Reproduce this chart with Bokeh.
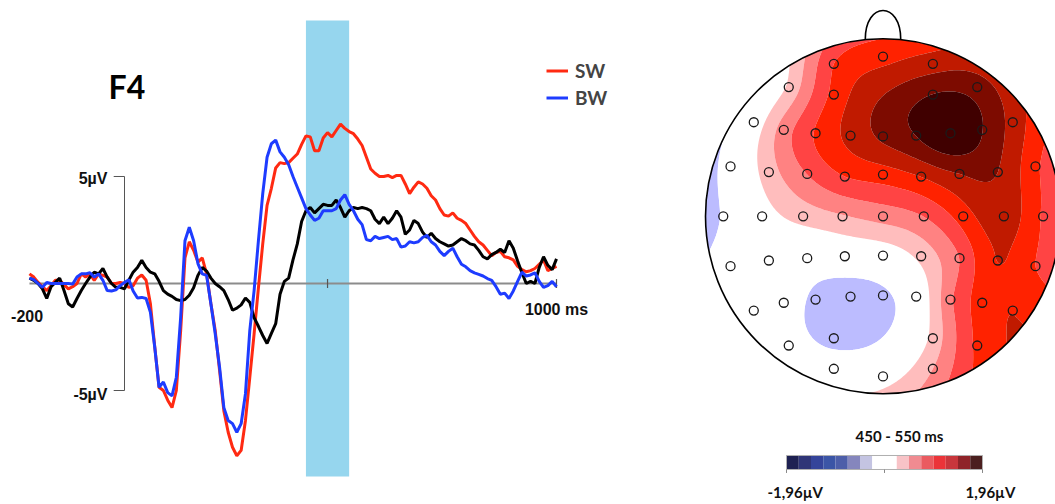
import numpy as np
from bokeh.plotting import figure
from bokeh.models import Range1d, BoxAnnotation, Legend, LegendItem
from bokeh.layouts import row
from bokeh.embed import file_html
from bokeh.resources import INLINE
from bokeh.core.properties import value

# ---------------- ERP data (channel F4), µV at 10 ms steps ----------------
times = list(range(-220, 1001, 10))

sw = [0.45, 0.3, 0.05, -0.15, -0.33, -0.1, 0.15, 0.15, -0.05, -0.25,
      -0.15, 0.0, 0.45, 0.3, 0.45, 0.15, 0.45, 0.38, 0.3, 0.0,
      0.0, 0.05, 0.0, -0.18, -0.1, 0.25, 0.4, 0.15, -0.95, -2.95,
      -4.85, -5.0, -5.45, -5.8, -5.0, -2.2, 1.2, 1.95, 1.55, 1.0,
      1.2, 0.45, -0.95, -2.2, -4.05, -5.95, -6.95, -7.65, -8.05, -7.8,
      -6.4, -4.4, -2.35, -0.2, 1.85, 3.65, 4.45, 5.4, 5.65, 5.6,
      5.65, 5.85, 6.05, 6.5, 6.9, 6.85, 6.2, 6.2, 6.8, 7.05,
      6.85, 7.15, 7.45, 7.25, 7.1, 7.0, 6.75, 6.45, 5.9, 5.35,
      5.15, 5.0, 5.0, 5.05, 4.95, 5.05, 5.05, 4.65, 4.2, 4.5,
      4.75, 4.65, 4.45, 4.1, 3.9, 3.5, 3.2, 3.15, 3.3, 3.05,
      2.95, 2.8, 2.5, 2.2, 1.95, 1.8, 1.55, 1.3, 1.45, 1.5,
      1.25, 1.2, 1.1, 0.8, 0.65, 0.55, 0.6, 0.7, 0.9, 1.1,
      0.6, 0.7, 0.8]

bw = [0.25, 0.18, 0.0, -0.18, 0.05, 0.0, 0.0, 0.0, 0.0, 0.0,
      -0.03, 0.3, 0.45, 0.45, 0.5, 0.3, 0.45, 0.15, -0.33, -0.35,
      -0.3, -0.1, 0.05, 0.18, -0.35, -0.68, -0.65, -0.7, -1.35, -2.98,
      -4.85, -4.6, -5.1, -5.25, -4.38, -1.58, 2.0, 2.63, 2.0, 0.93,
      0.45, 0.38, -0.95, -2.35, -3.9, -5.8, -6.4, -6.55, -6.95, -6.55,
      -5.15, -2.2, -0.33, 2.0, 4.2, 5.9, 6.53, 6.7, 6.15, 5.9,
      5.55, 5.0, 4.5, 4.0, 3.5, 3.2, 2.95, 3.05, 3.4, 3.4,
      3.4, 3.5, 3.9, 4.15, 3.7, 3.4, 3.0, 2.75, 2.05, 2.0,
      2.2, 2.1, 2.15, 2.2, 2.05, 2.1, 1.7, 1.75, 1.95, 1.9,
      1.95, 2.15, 2.25, 1.95, 1.8, 1.5, 1.3, 1.5, 1.65, 1.25,
      0.9, 0.78, 0.6, 0.5, 0.43, 0.35, 0.23, 0.15, -0.15, -0.5,
      -0.45, -0.7, -0.35, 0.1, 0.53, 0.35, 0.4, 0.5, 0.1, -0.18,
      -0.1, 0.1, -0.15]

diff = [0.25, 0.15, 0.0, -0.25, -0.7, -0.15, 0.05, 0.25, -0.33, -0.95,
        -1.1, -0.7, -0.33, 0.0, 0.3, 0.53, 0.45, 0.7, 0.3, 0.0,
        -0.18, -0.18, -0.25, 0.15, 0.53, 0.75, 1.08, 0.75, 0.53, 0.45,
        0.1, -0.33, -0.5, -0.6, -0.75, -0.8, -0.75, -0.55, -0.2, 0.38,
        0.75, 0.58, 0.25, 0.0, -0.15, -0.33, -0.75, -1.25, -1.15, -1.0,
        -0.68, -0.88, -1.6, -2.0, -2.43, -2.8, -2.33, -1.88, -0.5, 0.1,
        0.25, 1.1, 1.85, 2.9, 3.4, 3.55, 3.3, 3.5, 3.7, 3.65,
        3.65, 3.9, 3.55, 3.1, 3.4, 3.55, 3.5, 3.55, 3.5, 3.4,
        3.0, 2.8, 3.1, 2.8, 3.05, 3.4, 3.1, 2.3, 2.5, 2.95,
        2.8, 2.4, 2.15, 2.35, 2.1, 1.95, 1.85, 1.75, 1.8, 1.95,
        2.1, 2.0, 1.85, 1.8, 1.55, 1.25, 1.15, 1.35, 1.45, 1.6,
        1.45, 2.0, 1.65, 1.05, 0.5, 0.0, 0.1, 0.0, 0.75, 1.25,
        0.85, 0.65, 1.15]

window_ms = [420, 520]          # highlighted window
y_ticks = [5, -5]
y_tick_labels = ["5µV", "-5µV"]
x_ticks = [470, 1000]

# ---------------- Topography data (450-550 ms), µV per electrode ----------------
elec_x = [0.0, -0.277, 0.281,
          -0.531, -0.277, 0.281, 0.531,
          -0.728, -0.559, -0.380, -0.183, 0.0, 0.187, 0.380, 0.559, 0.731,
          -0.859, -0.643, -0.427, -0.215, 0.0, 0.215, 0.431, 0.647, 0.859,
          -0.900, -0.681, -0.450, -0.228, 0.0, 0.230, 0.452, 0.681, 0.902,
          -0.859, -0.643, -0.427, -0.215, 0.0, 0.215, 0.431, 0.647, 0.859,
          -0.728, -0.559, -0.380, -0.183, 0.0, 0.187, 0.380, 0.559, 0.731,
          -0.531, -0.277, 0.281, 0.531,
          -0.277, 0.0, 0.281]
elec_y = [0.900, 0.859, 0.859,
          0.728, 0.686, 0.686, 0.728,
          0.530, 0.487, 0.468, 0.455, 0.450, 0.455, 0.468, 0.487, 0.530,
          0.281, 0.249, 0.239, 0.224, 0.235, 0.224, 0.239, 0.249, 0.281,
          0.0, 0.0, 0.0, 0.0, 0.0, 0.0, 0.0, 0.0, 0.0,
          -0.281, -0.249, -0.236, -0.225, -0.221, -0.225, -0.236, -0.249, -0.281,
          -0.531, -0.487, -0.469, -0.452, -0.446, -0.452, -0.469, -0.487, -0.531,
          -0.728, -0.687, -0.687, -0.728,
          -0.859, -0.902, -0.859]
elec_v = [1.13, 0.98, 1.35,
          0.29, 1.05, 1.72, 1.59,
          0.07, 0.61, 1.00, 1.30, 1.52, 1.72, 1.96, 1.72, 1.38,
          -0.10, 0.37, 0.74, 0.98, 1.10, 1.23, 1.47, 1.47, 1.03,
          -0.22, 0.12, 0.34, 0.47, 0.59, 0.74, 1.10, 1.37, 0.95,
          -0.10, 0.0, -0.08, 0.0, 0.07, 0.32, 0.74, 1.23, 0.98,
          0.0, -0.1, -0.30, -0.40, -0.30, 0.0, 0.69, 1.10, 1.22,
          -0.07, -0.36, 0.32, 1.03,
          0.0, 0.12, 0.49]

cb_limit = 1.96
map_colors = ["#000070", "#0000a0", "#1a1ad0", "#3c3cff", "#6464ff", "#8c8cff", "#bcbcff",
              "#ffffff",
              "#ffbdbd", "#ff8282", "#ff4444", "#ff2200", "#c01a00", "#7d0b00", "#400000"]
bar_colors = ["#1e2152", "#2f3577", "#34449a", "#3b55a6", "#4d5ea9", "#8586bd", "#c4c4e2",
              "#ffffff",
              "#f8c3c7", "#f08b91", "#ea5b60", "#eb3439", "#c8363c", "#8f2329", "#4b1f1f"]

BOLD_SANS = value("Liberation Sans")
LATO = value("Lato")

# ======================= ERP panel =======================
p1 = figure(width=700, height=504, output_backend="svg", toolbar_location=None,
            x_range=Range1d(-287.04, 1333.33), y_range=Range1d(-10.327, 13.224),
            x_axis_location=None, y_axis_location=None, min_border=0)
p1.grid.visible = False
p1.outline_line_color = None

p1.add_layout(BoxAnnotation(left=window_ms[0], right=window_ms[1], bottom=-9.02, top=12.29,
                            fill_color="#96d6ee", fill_alpha=1.0, line_color=None,
                            level="underlay"))

# x axis (zero line) and y axis at t=0
p1.segment(x0=[times[0]], y0=[0], x1=[times[-1]], y1=[0], line_color="#8c8c8c", line_width=2)
p1.segment(x0=[0], y0=[min(y_ticks)], x1=[0], y1=[max(y_ticks)], line_color="#555555", line_width=1)
p1.segment(x0=[-25, -25], y0=y_ticks, x1=[0, 0], y1=y_ticks, line_color="#555555", line_width=1)
p1.scatter(x=x_ticks, y=[0, 0], marker="dash", angle=np.pi / 2, size=9,
           line_color="#555555", line_width=1.2)

r_sw = p1.line(times, sw, line_color="#ff2a12", line_width=3)
p1.line(times, diff, line_color="#000000", line_width=3)
r_bw = p1.line(times, bw, line_color="#1e3cff", line_width=3)

p1.text(x=[0], y=[y_ticks[0]], text=[y_tick_labels[0]], x_offset=-17, y_offset=2,
        text_align="right", text_baseline="middle", text_font=BOLD_SANS,
        text_font_style="bold", text_font_size="16px", text_color="#111111")
p1.text(x=[0], y=[y_ticks[1]], text=[y_tick_labels[1]], x_offset=-17, y_offset=4,
        text_align="right", text_baseline="middle", text_font=BOLD_SANS,
        text_font_style="bold", text_font_size="16px", text_color="#111111")
p1.text(x=[-200], y=[0], text=["-200"], x_offset=-11, y_offset=33,
        text_align="center", text_baseline="middle", text_font=BOLD_SANS,
        text_font_style="bold", text_font_size="16px", text_color="#111111")
p1.text(x=[1000], y=[0], text=["1000 ms"], x_offset=0, y_offset=26,
        text_align="center", text_baseline="middle", text_font=BOLD_SANS,
        text_font_style="bold", text_font_size="16px", text_color="#111111")
p1.text(x=[-37], y=[9.2], text=["F4"], text_align="left", text_baseline="middle",
        text_font=LATO, text_font_style="bold", text_font_size="32px", text_color="#000000")

legend = Legend(items=[LegendItem(label="SW", renderers=[r_sw]),
                       LegendItem(label="BW", renderers=[r_bw])],
                location=(546, 393.5), orientation="vertical",
                glyph_width=22, glyph_height=27, label_height=27, label_standoff=7,
                padding=0, spacing=0, margin=0, border_line_color=None,
                background_fill_alpha=0, label_text_font="Lato",
                label_text_font_style="bold", label_text_font_size="19px")
p1.add_layout(legend)

# ======================= Topography panel =======================
p2 = figure(width=355, height=504, output_backend="svg", toolbar_location=None,
            x_range=Range1d(-1.0282, 0.9718), y_range=Range1d(-1.6237, 1.2158),
            x_axis_location=None, y_axis_location=None, min_border=0)
p2.grid.visible = False
p2.outline_line_color = None
p2.extra_x_ranges = {"cb": Range1d(-3.68, 3.42)}

ex = np.array(elec_x)
ey = np.array(elec_y)
ev = np.array(elec_v)


def tps_kernel(r):
    rr = np.maximum(r, 1e-12)
    return r * r * np.log(rr)


n = len(ex)
d = np.sqrt((ex[:, None] - ex[None, :]) ** 2 + (ey[:, None] - ey[None, :]) ** 2)
K = tps_kernel(d) + 1e-4 * np.eye(n)
P = np.column_stack([np.ones(n), ex, ey])
A = np.block([[K, P], [P.T, np.zeros((3, 3))]])
b = np.concatenate([ev, np.zeros(3)])
sol = np.linalg.solve(A, b)
w, a = sol[:n], sol[n:]

gx = np.linspace(-1.015, 1.03, 231)
gy = np.linspace(-1.03, 1.03, 231)
GX, GY = np.meshgrid(gx, gy)
D = np.sqrt((GX[..., None] - ex) ** 2 + (GY[..., None] - ey) ** 2)
Z = tps_kernel(D) @ w + a[0] + a[1] * GX + a[2] * GY

step = cb_limit / 8
inner = [step * (k + 1) for k in range(7)]
levels = [-50.0] + [-v for v in inner[::-1]] + inner + [50.0]
p2.contour(gx, gy, Z, levels=levels, fill_color=map_colors, line_color=None)

# white surround outside the scalp
p2.annulus(x=[0], y=[0], inner_radius=1.0, outer_radius=1.6, fill_color="white", line_color=None)

# head outline and nose
p2.bezier(x0=[-0.1], y0=[0.995], x1=[0.1], y1=[0.995], cx0=[-0.1], cy0=[1.214],
          cx1=[0.1], cy1=[1.214], line_color="black", line_width=1.6)
p2.circle(x=[0], y=[0], radius=1.0, fill_color=None, line_color="black", line_width=1.6)

# electrodes
p2.scatter(ex, ey, marker="circle", size=9, fill_color=None, line_color="#1a1a1a", line_width=1.3)

# colour bar
edges = [-cb_limit] + [-v for v in inner[::-1]] + inner + [cb_limit]
p2.quad(left=edges[:-1], right=edges[1:], bottom=-1.4265, top=-1.3476,
        fill_color=bar_colors, line_color=None, x_range_name="cb")
p2.quad(left=[-cb_limit], right=[cb_limit], bottom=[-1.4265], top=[-1.3476],
        fill_color=None, line_color="#b0b0b0", line_width=1, x_range_name="cb")
p2.segment(x0=[-cb_limit, 0, cb_limit], y0=[-1.4265] * 3, x1=[-cb_limit, 0, cb_limit],
           y1=[-1.446] * 3, line_color="#888888", line_width=1, x_range_name="cb")

p2.text(x=[0.30], y=[-1.235], text=["450 - 550 ms"], text_align="center",
        text_baseline="middle", text_font=LATO, text_font_style="bold",
        text_font_size="15px", text_color="#111111", x_range_name="cb")
p2.text(x=[-2.34], y=[-1.556], text=["-1,96µV"], text_align="left",
        text_baseline="middle", text_font=LATO, text_font_style="bold",
        text_font_size="15px", text_color="#111111", x_range_name="cb")
p2.text(x=[1.62], y=[-1.556], text=["1,96µV"], text_align="left",
        text_baseline="middle", text_font=LATO, text_font_style="bold",
        text_font_size="15px", text_color="#111111", x_range_name="cb")

layout = row(p1, p2)
open("out.html", "w").write(file_html(layout, INLINE))
